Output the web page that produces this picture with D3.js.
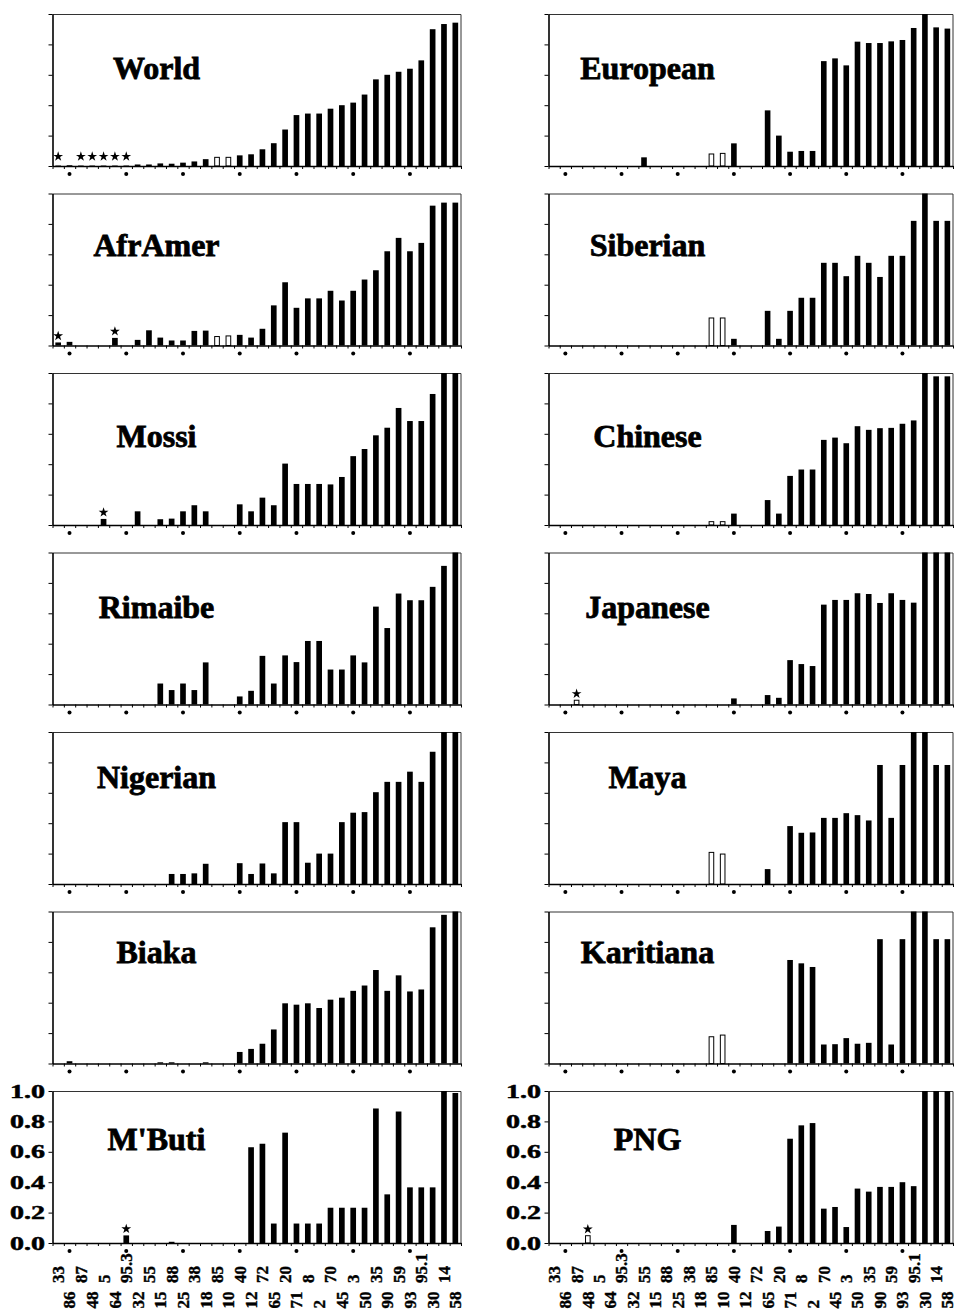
<!DOCTYPE html>
<html>
<head>
<meta charset="utf-8">
<script src="https://cdn.jsdelivr.net/npm/d3@7"></script>
<style>
  body { margin: 0; background: #fff; }
  svg { display: block; }
</style>
</head>
<body>
<svg id="chart" width="959" height="1311"></svg>
<script>
// data
const categories = ["33","86","87","48","5","64","95.3","32","55","15","88","25","38","18","85","10","40","12",
                    "72","65","20","71","8","2","70","45","3","50","35","90","59","93","95.1","30","14","58"];

const populations = ["World","AfrAmer","Mossi","Rimaibe","Nigerian","Biaka","M'Buti",
                     "European","Siberian","Chinese","Japanese","Maya","Karitiana","PNG"];

const world     = [0.003,0.005,0.003,0.003,0.003,0.003,0.003,0.01,0.01,0.017,0.015,0.022,0.03,0.045,0.057,0.057,0.07,0.077,0.11,0.15,0.24,0.335,0.345,0.345,0.377,0.4,0.417,0.47,0.57,0.6,0.62,0.64,0.695,0.9,0.934,0.943];
const afrAmer   = [0.02,0.024,0,0,0,0.05,0,0.037,0.1,0.052,0.033,0.033,0.096,0.098,0.059,0.063,0.07,0.052,0.11,0.264,0.416,0.248,0.31,0.31,0.36,0.296,0.36,0.434,0.495,0.62,0.708,0.62,0.675,0.92,0.94,0.94];
const mossi     = [0,0,0,0,0.04,0,0,0.09,0,0.038,0.042,0.09,0.13,0.09,0,0,0.136,0.09,0.18,0.13,0.404,0.27,0.27,0.27,0.267,0.316,0.453,0.5,0.59,0.64,0.77,0.684,0.684,0.862,1,1];
const rimaibe   = [0,0,0,0,0,0,0,0,0,0.138,0.095,0.138,0.095,0.277,0,0,0.053,0.09,0.32,0.138,0.323,0.279,0.418,0.418,0.23,0.23,0.323,0.277,0.644,0.503,0.73,0.686,0.686,0.774,0.912,1];
const nigerian  = [0,0,0,0,0,0,0,0,0,0,0.066,0.066,0.07,0.133,0,0,0.137,0.066,0.135,0.07,0.407,0.407,0.14,0.2,0.2,0.407,0.469,0.473,0.604,0.672,0.672,0.739,0.672,0.87,1,1];
const biaka     = [0,0.015,0,0,0,0,0,0,0,0.008,0.008,0,0,0.008,0,0,0.076,0.096,0.13,0.224,0.396,0.387,0.396,0.365,0.42,0.433,0.478,0.513,0.615,0.478,0.58,0.474,0.487,0.896,0.978,1];
const mbuti     = [0,0,0,0,0,0,0.05,0,0,0,0.008,0,0,0,0,0,0,0.63,0.653,0.128,0.726,0.128,0.128,0.128,0.232,0.232,0.232,0.232,0.885,0.32,0.865,0.366,0.366,0.366,1,0.987];
const european  = [0,0,0,0,0,0,0,0,0.057,0,0,0,0,0,0.079,0.083,0.149,0,0,0.366,0.2,0.094,0.099,0.099,0.69,0.708,0.662,0.818,0.809,0.809,0.82,0.829,0.908,1,0.912,0.904];
const siberian  = [0,0,0,0,0,0,0,0,0,0,0,0,0,0,0.181,0.181,0.044,0,0,0.228,0.044,0.228,0.314,0.314,0.544,0.544,0.456,0.59,0.544,0.451,0.59,0.59,0.82,1,0.82,0.82];
const chinese   = [0,0,0,0,0,0,0,0,0,0,0,0,0,0,0.022,0.022,0.075,0,0,0.164,0.075,0.323,0.365,0.365,0.56,0.575,0.538,0.65,0.626,0.637,0.639,0.666,0.688,1,0.978,0.978];
const japanese  = [0,0,0.028,0,0,0,0,0,0,0,0,0,0,0,0,0,0.04,0,0,0.062,0.044,0.292,0.266,0.253,0.657,0.688,0.688,0.732,0.727,0.668,0.732,0.688,0.67,1,1,1];
const maya      = [0,0,0,0,0,0,0,0,0,0,0,0,0,0,0.208,0.197,0,0,0,0.098,0,0.381,0.337,0.339,0.435,0.435,0.466,0.453,0.418,0.783,0.435,0.783,1,1,0.783,0.783];
const karitiana = [0,0,0,0,0,0,0,0,0,0,0,0,0,0,0.176,0.187,0,0,0,0,0,0.681,0.659,0.635,0.125,0.127,0.167,0.13,0.136,0.818,0.125,0.818,1,1,0.818,0.818];
const png       = [0,0,0,0.048,0,0,0,0,0,0,0,0,0,0,0,0,0.119,0,0,0.079,0.108,0.686,0.774,0.789,0.226,0.237,0.105,0.358,0.338,0.369,0.369,0.4,0.374,1,1,1];

// bars drawn open, bars marked with a star (indices into categories)
const hollowBars = [[14,15],[14,15],[],[],[],[],[],[14,15],[14,15],[14,15],[2],[14,15],[14,15],[3]];
const starBars   = [[0,2,3,4,5,6],[0,5],[4],[],[],[],[6],[],[],[],[2],[],[],[3]];
const dotMarks   = [1,6,11,16,21,26,31];
const yTicks     = [0,0.2,0.4,0.6,0.8,1.0];

const series = [world, afrAmer, mossi, rimaibe, nigerian, biaka, mbuti,
                european, siberian, chinese, japanese, maya, karitiana, png];

/*
    layout
*/
const colX    = [52.5, 548.5];
const colW    = [408.5, 404.5];
const titleDx = [104, 99];
const titleDy = [65, 62, 74, 65, 56, 51, 59];
const panelH  = 152;
const rowTop  = (r) => 14 + r*179.5;
const serif   = "'Liberation Serif','Times New Roman',serif";

const svg = d3.select("#chart");

const y = d3.scaleLinear().domain([0, 1]).range([panelH, 0]);

const star = d3.symbol(d3.symbolStar, 30);

function drawPanel(p){
    const col = p < 7 ? 0 : 1;
    const row = p % 7;
    const bottom = row === 6;
    const values = series[p];
    const panelW = colW[col];

    const x = d3.scaleBand()
        .domain(categories)
        .range([0, panelW])
        .paddingInner(0.5)
        .paddingOuter(0.25);

    const xEdges = d3.scaleLinear().domain([0, categories.length]).range([0, panelW]);

    const g = svg.append("g")
        .attr("transform", `translate(${colX[col]}, ${rowTop(row)})`);

    // frame: top and right edges
    g.append("path")
        .attr("d", `M0,0.5H${panelW}V${panelH}`)
        .attr("fill", "none")
        .attr("stroke", "#333")
        .attr("stroke-width", 1);

    const bars = values.map((v, i) => ({cat: categories[i], v: v, i: i,
                                        open: hollowBars[p].includes(i)}));

    g.selectAll("rect.bar")
        .data(bars.filter(d => d.v > 0))
        .enter()
        .append("rect")
        .attr("class", "bar")
        .attr("x", d => x(d.cat) + (d.open ? 0.5 : 0))
        .attr("width", d => x.bandwidth() - (d.open ? 1 : 0))
        .attr("y", d => y(d.v))
        .attr("height", d => panelH - y(d.v))
        .attr("fill", d => d.open ? "#fff" : "#000")
        .attr("stroke", d => d.open ? "#000" : "none")
        .attr("stroke-width", 1);

    g.selectAll("path.star")
        .data(starBars[p].map(i => bars[i]))
        .enter()
        .append("path")
        .attr("class", "star")
        .attr("d", star)
        .attr("transform", d => `translate(${x(d.cat) + x.bandwidth()/2}, ${Math.min(y(d.v), panelH - 3) - 6.5})`)
        .attr("fill", "#000");

    // bottom axis, ticks on the category boundaries
    const xa = g.append("g")
        .attr("transform", `translate(0, ${panelH})`)
        .call(d3.axisBottom(xEdges)
            .tickValues(d3.range(categories.length + 1))
            .tickSize(3)
            .tickSizeOuter(0)
            .tickFormat(""));
    xa.select(".domain").attr("stroke-width", 1.6);
    xa.selectAll(".tick line").attr("stroke-width", 1);

    g.selectAll("circle.dot")
        .data(dotMarks)
        .enter()
        .append("circle")
        .attr("class", "dot")
        .attr("cx", i => x(categories[i]) + x.bandwidth()/2)
        .attr("cy", panelH + 8)
        .attr("r", 2)
        .attr("fill", "#000");

    // left axis
    const ya = g.append("g")
        .call(d3.axisLeft(y)
            .tickValues(yTicks)
            .tickSize(4)
            .tickSizeOuter(0)
            .tickPadding(3.5)
            .tickFormat(bottom ? d3.format(".1f") : ""));
    ya.select(".domain").attr("stroke-width", 1.6);
    ya.selectAll(".tick text")
        .attr("font-family", serif)
        .attr("font-weight", "bold")
        .attr("font-size", 19)
        .attr("fill", "#000")
        .attr("stroke", "#000")
        .attr("stroke-width", 0.5)
        .attr("textLength", 35)
        .attr("lengthAdjust", "spacingAndGlyphs");

    g.append("text")
        .attr("x", titleDx[col])
        .attr("y", titleDy[row])
        .attr("text-anchor", "middle")
        .attr("font-family", serif)
        .attr("font-weight", "bold")
        .attr("font-size", 32)
        .attr("stroke", "#000")
        .attr("stroke-width", 0.8)
        .text(populations[p]);

    if (bottom) {
        g.selectAll("text.cat")
            .data(categories)
            .enter()
            .append("text")
            .attr("class", "cat")
            .attr("transform", (d, i) => `translate(${x(d) + x.bandwidth()/2}, ${panelH + (i % 2 ? 65.5 : 40)}) rotate(-90)`)
            .attr("dy", "0.35em")
            .attr("font-family", serif)
            .attr("font-weight", "bold")
            .attr("font-size", 17)
            .attr("stroke", "#000")
            .attr("stroke-width", 0.4)
            .text(d => d);
    }
}

populations.forEach((name, p) => drawPanel(p));
</script>
</body>
</html>
